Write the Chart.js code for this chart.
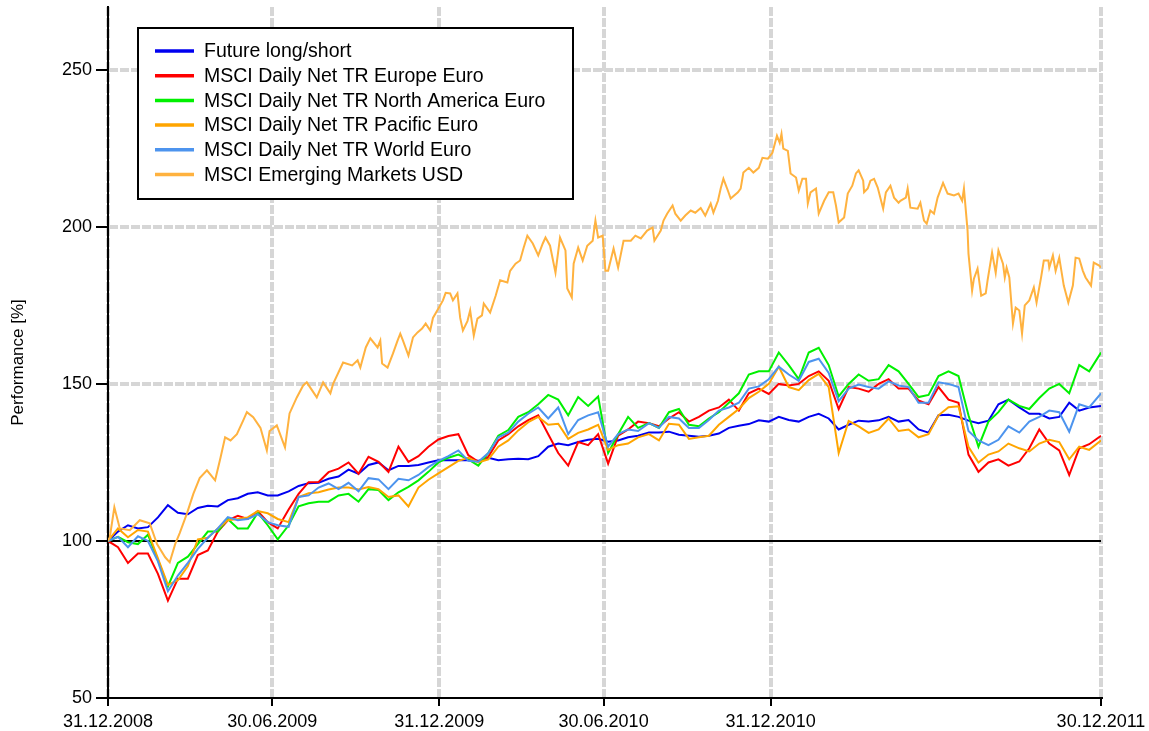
<!DOCTYPE html>
<html><head><meta charset="utf-8">
<script src="https://cdn.jsdelivr.net/npm/chart.js@4.4.1/dist/chart.umd.min.js"></script>
<style>html,body{margin:0;padding:0;background:#fff;}#wrap{width:1149px;height:731px;}</style>
</head><body><div id="wrap"><canvas id="c" width="1149" height="731"></canvas></div>
<script>
const tickDays = [0,181,365,546,730,1094];
const tickLabels = ['31.12.2008','30.06.2009','31.12.2009','30.06.2010','31.12.2010','30.12.2011'];
const yTicks = [50,100,150,200,250];
const refLine = 100;
const yTitle = 'Performance [%]';
const seriesNames = ['Future long/short','MSCI Daily Net TR Europe Euro','MSCI Daily Net TR North America Euro','MSCI Daily Net TR Pacific Euro','MSCI Daily Net TR World Euro','MSCI Emerging Markets USD'];
const seriesColors = ['#0000f0','#ff0000','#00f000','#ffa500','#4d94ee','#ffb23f'];
const days = [0,11,22,33,44,55,66,77,88,99,110,121,132,143,154,165,176,187,199,210,221,232,243,254,265,276,287,298,309,320,331,342,353,364,375,386,397,408,419,430,441,452,463,474,485,496,507,518,529,540,551,562,573,584,596,607,618,629,640,651,662,673,684,695,706,717,728,739,750,761,772,783,794,805,816,827,838,849,860,871,882,893,904,915,926,937,948,959,970,981,992,1004,1015,1026,1037,1048,1059,1070,1081,1094];
const future = [100,103,105,104,104.4,107.5,111.4,109,108.5,110.5,
111.2,111,113,113.6,115,115.5,114.5,114.5,115.8,117.5,
118.4,118.5,119.8,120.5,122.7,121.4,124.2,125,122.5,123.9,
123.9,124.2,125,125.7,125.7,125.7,125.8,125.5,126.5,125.7,
126,126.2,126,127,130,131,130.5,131.5,132.2,132.5,
131.6,132,133,133.5,134.5,134.5,134.8,133.8,133.5,133.2,
133.5,134.2,136,136.7,137.2,138.4,138,139.5,138.5,138,
139.5,140.5,139,135.5,137,138.3,138,138.4,139.5,138,
138.5,135.5,134.5,140,140.2,139.5,138.3,137.5,138.3,143.5,
145,142.5,140.5,140.5,139,139.5,144,141.5,142.5,143];
const europe = [100,98,93,96,96,89.5,81,88,88,95.5,
97,103,106.6,108,107,109.5,106,104,110,115,
118.7,118.8,121.9,123,125,121.4,126.8,125.2,122,130,
125.2,127,130,132.3,133.4,134,127.3,125.2,126.8,132,
134,136.5,138.5,140,134,128,124,131.5,130.5,134,
124.6,133.5,135.5,138,137.5,136.5,139,141,138,139.5,
141.5,142.5,145,141.5,147,148.5,146.8,150,149.5,150,
152.5,154,151,142,149,148.5,147.5,150,151.5,148.5,
148.5,144.7,143.5,149,145,144,127.5,122,125,126,
124,125.3,129.5,135.5,131,128.8,121,129.5,130.8,133.5];
const northAmerica = [100,101.3,99.6,99,102,94,85.5,93,95,99,
103,103,107,104,104,109,105,100.5,105,111,
112,112.5,112.5,114.5,115,112.5,116.5,116.2,113,115.5,
117.2,119.3,122,125,126.5,127.5,126,124,128,133.5,
135.3,139.5,141,143.5,146.5,145,140,145.8,143,146,
128,134,139.5,136,137.5,136,141,142,137,136.5,
139,141,144,147,153,154,154,160,156,151.5,
160,161.5,156,146,150,153,151,151.5,156,154,
150,145.8,146.5,152.5,154,152.5,140,130,138,141,
145,143,142,145.5,148.5,150,147,156,154,160];
const pacific = [100,104,101.2,103.5,103,94.5,86,87.5,92,100.5,
101,104,106.6,107,107.5,109.5,108.8,107,106,114,
115.2,115.5,116.4,117,117,116.4,117.2,116.5,114,114.5,
111,117,119.5,121.5,123.5,125.5,126.5,125,126,130,
132,135.2,137.8,139.5,137,137.3,132.5,134.4,135.5,137,
129,130.5,131,133,134,132,137.3,137,132.5,133,
133.5,137,139.5,142,145.5,147.5,150,155.5,149,148,
151.2,153.2,149,128,138.2,136.5,134.4,135.5,139,135,
135.5,133,134,140,142.6,142.9,130,125,127.5,128.5,
131,129.5,128.5,131,132.2,131.5,126,130,129,132];
const world = [100,101.3,98,101.5,100,93.5,84,89,93,97.5,
101,104,107.6,106.6,107,108.5,106,105,104.5,114,
114.5,117,118.3,116.5,118.5,115.8,120,119.6,116.5,119.8,
119.3,121,123.5,125.5,127,128.8,125.5,125.2,128,133,
134.5,138,140.5,142.5,139,142.5,134,138.5,140,141,
130,134,135.5,135,137.5,136,139.5,139,136,136,
138.5,141.5,142.5,144,148.5,149.2,151.5,155.5,153,151,
157,158,153.5,144.5,148.5,149.8,149,148.5,150.8,149.5,
149,144,144,150.5,150,149,135,132,130.5,132.2,
136.5,134.5,138,139.5,141.5,141,134.8,143.5,142.5,147];
const emDays = [0,2,7,13,24,35,46,54,63,68,
74,79,87,94,101,109,118,124,129,135,
142,149,153,160,168,175,178,186,195,200,
208,215,219,230,237,245,248,259,269,275,
278,284,289,297,300,302,308,314,319,322,
325,331,336,341,346,350,355,358,364,369,
372,377,380,385,388,391,396,399,403,407,
412,414,421,427,432,440,443,449,454,458,
462,468,474,479,482,487,493,498,504,506,
511,513,518,523,528,534,537,540,545,548,
551,557,562,568,576,581,587,594,600,602,
609,612,616,622,625,631,636,642,647,653,
658,664,667,672,675,678,683,686,694,697,
700,706,711,717,721,727,732,737,740,742,
744,749,752,758,761,765,769,771,774,780,
783,789,794,799,802,805,811,815,820,824,
827,832,833,837,840,844,848,854,857,862,
866,871,873,879,881,884,892,895,899,902,
906,910,914,920,925,932,937,941,943,947,
948,952,954,958,962,967,969,974,978,981,
986,988,990,993,997,1000,1004,1007,1010,1015,
1020,1023,1028,1031,1036,1037,1041,1044,1048,1053,
1058,1063,1066,1070,1074,1077,1083,1086,1092,1094];
const emerging = [100,101.2,110.7,104,103.4,106.6,105.6,99,94.8,93.2,
99,102.5,108.8,115,120,122.5,119.3,126.6,133,132,
134,138.4,141,139.4,136,128.8,135,136.8,129.8,140.6,
145.7,149.5,150.5,145.7,150.5,147,150,156.8,155.9,157.5,
155.2,161.6,164.5,161.6,163.8,156.5,155.2,159.7,163.8,166,
163.8,159,164.8,166.4,167.6,169.2,167,171,174,176.6,
179,178.8,176.6,178.8,171,167,170,173.4,165.4,170.8,
171.8,175.6,172.7,178,183,182.3,186,188.3,189.3,193.4,
197.2,194.7,190.9,194.7,196.6,194,185.4,196.6,192.5,180.4,
177.5,188.3,193.4,189.3,194,195.6,202,196.6,197.2,186,
186,193.1,187,195.6,195.6,197.2,196.3,198.8,199.8,195.6,
198.8,202,204.2,206.8,204.2,202,203.6,205.2,204.5,206,
203.6,207.4,204.5,208.3,212.2,215.3,211.5,209,211,212.2,
217.3,218.8,217.3,218.8,222,221.7,223.6,229,226.8,229.6,
224.9,224.2,217,215.7,211.5,215.3,215.3,207.4,211,212.2,
204.2,208.3,211,211,206.8,201.4,203,210.6,213.1,217,
218,214.7,211,212.2,214.7,215.3,212.5,205.8,211,213.1,
209.3,207.7,208.3,209.3,212.2,206.1,205.8,207.7,202,201,
205.2,204.2,209.3,214,210.6,210,210.6,208.3,212.2,198.8,
191.5,179.7,183.5,186.7,178.1,178.8,182.9,191.8,185.4,192.5,
188.3,183.9,187,183.9,169.2,174.3,173.4,166,175,176.6,
180.7,175.9,183.9,189.3,189.3,187,190.9,186,190.2,181.3,
175.9,181.3,190.2,189.9,186,183.9,181.3,188.6,187.7,187];

const allSeries = [future, europe, northAmerica, pacific, world, emerging];
const allDays = [days, days, days, days, days, emDays];
const FONT = '"Liberation Sans", Arial, Helvetica, sans-serif';

const datasets = allSeries.map((vals, i) => ({
  label: seriesNames[i],
  data: allDays[i].map((d, k) => ({x: d, y: vals[k]})),
  borderColor: seriesColors[i],
  backgroundColor: seriesColors[i],
  borderWidth: 2,
  pointRadius: 0,
  tension: 0,
  fill: false,
  order: -i
}));

const refLinePlugin = {
  id: 'refLine',
  beforeDatasetsDraw(chart) {
    const {ctx, chartArea, scales} = chart;
    const y = scales.y.getPixelForValue(refLine);
    ctx.save();
    ctx.strokeStyle = '#000';
    ctx.lineWidth = 2;
    ctx.beginPath();
    ctx.moveTo(chartArea.left, y);
    ctx.lineTo(chartArea.right, y);
    ctx.stroke();
    ctx.restore();
  }
};

const yTitlePlugin = {
  id: 'yTitle',
  afterDraw(chart) {
    const {ctx, chartArea} = chart;
    ctx.save();
    ctx.translate(chartArea.left - 90, (chartArea.top + chartArea.bottom) / 2 + 10);
    ctx.rotate(-Math.PI / 2);
    ctx.font = '17px ' + FONT;
    ctx.fillStyle = '#000';
    ctx.textAlign = 'center';
    ctx.textBaseline = 'middle';
    ctx.fillText(yTitle, 0, 0);
    ctx.restore();
  }
};

const boxLegendPlugin = {
  id: 'boxLegend',
  afterDraw(chart) {
    const {ctx, chartArea} = chart;
    const x0 = chartArea.left + 30, y0 = chartArea.top + 21;
    const w = 435, h = 171, rowH = 24.7;
    ctx.save();
    ctx.fillStyle = '#fff';
    ctx.fillRect(x0, y0, w, h);
    ctx.strokeStyle = '#000';
    ctx.lineWidth = 2;
    ctx.strokeRect(x0, y0, w, h);
    ctx.font = '19.5px ' + FONT;
    ctx.textBaseline = 'middle';
    ctx.textAlign = 'left';
    chart.data.datasets.forEach((ds, i) => {
      const cy = y0 + 23 + i * rowH;
      ctx.strokeStyle = ds.borderColor;
      ctx.lineWidth = 3.5;
      ctx.beginPath();
      ctx.moveTo(x0 + 17, cy);
      ctx.lineTo(x0 + 56, cy);
      ctx.stroke();
      ctx.fillStyle = '#000';
      ctx.fillText(ds.label, x0 + 66, cy + 1);
    });
    ctx.restore();
  }
};

new Chart(document.getElementById('c'), {
  type: 'line',
  data: {datasets},
  options: {
    responsive: false,
    animation: false,
    devicePixelRatio: 1,
    layout: {padding: {left: 0, top: 7, right: 48, bottom: 0}},
    plugins: {legend: {display: false}, tooltip: {enabled: false}},
    scales: {
      x: {
        type: 'linear',
        min: 0,
        max: 1094,
        afterBuildTicks: (s) => { s.ticks = tickDays.map(v => ({value: v})); },
        afterFit: (s) => { s.height = 33; s.paddingLeft = 0; s.paddingRight = 0; },
        ticks: {
          autoSkip: false,
          maxRotation: 0,
          padding: 5,
          color: '#000',
          font: {family: FONT, size: 18},
          callback: (v) => { const i = tickDays.indexOf(v); return i >= 0 ? tickLabels[i] : ''; }
        },
        grid: {color: '#d6d6d6', lineWidth: 4, tickColor: '#000', tickLength: 8, tickWidth: 2},
        border: {display: true, color: '#000', width: 2, dash: [9, 2]}
      },
      y: {
        type: 'linear',
        min: 50,
        max: 270,
        afterBuildTicks: (s) => { s.ticks = yTicks.map(v => ({value: v})); },
        afterFit: (s) => { s.width = 108; s.paddingTop = 0; s.paddingBottom = 0; },
        ticks: {color: '#000', padding: 4, font: {family: FONT, size: 18}},
        grid: {
          color: (c) => (c.tick && (c.tick.value === refLine || c.tick.value === 50)) ? 'rgba(0,0,0,0)' : '#d6d6d6',
          lineWidth: 4, tickColor: '#000', tickLength: 12, tickWidth: 2
        },
        border: {display: true, color: '#000', width: 2, dash: [9, 2]}
      }
    }
  },
  plugins: [refLinePlugin, yTitlePlugin, boxLegendPlugin]
});
</script>
</body></html>
